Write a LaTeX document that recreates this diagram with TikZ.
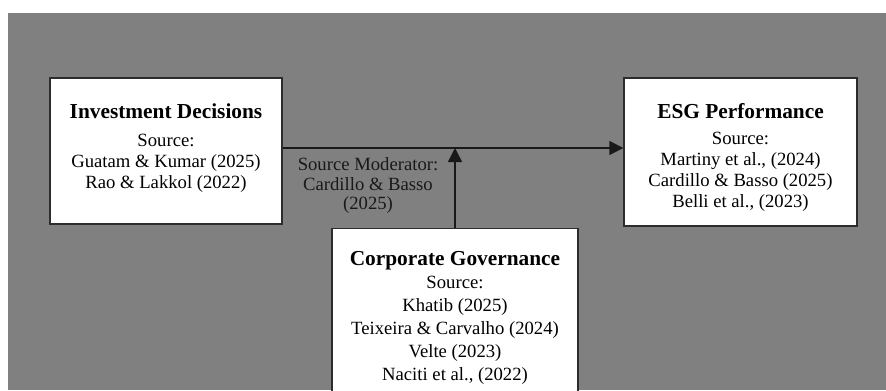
\documentclass[tikz,border=0pt]{standalone}
\usepackage{fontspec}
\setmainfont{Liberation Serif}
\usetikzlibrary{arrows.meta,positioning}

\definecolor{bggray}{RGB}{128,128,128}
\definecolor{boxline}{RGB}{45,45,45}
\newcommand{\boxtitle}[1]{{\fontsize{16}{15.75}\selectfont\bfseries #1}}
\tikzset{
    srcbox/.style={draw=boxline, line width=1pt, fill=white},
    boxtext/.style={align=center, inner sep=0pt,
        font=\fontsize{14}{15.75}\selectfont},
    modtext/.style={align=center, inner sep=0pt, text=black!90,
        font=\fontsize{14}{14.6}\selectfont},
    link/.style={line width=1.1pt, draw=black!90,
        -{Triangle[length=10.5pt,width=10.5pt]}},
}

\begin{document}
\begin{tikzpicture}[x=0.75pt,y=-0.75pt]
        \useasboundingbox (0,0) rectangle (886,390);
        \clip (0,0) rectangle (886,390);
        \fill[bggray] (8,13) rectangle (886,390);
        % boxes
        \node[srcbox, minimum width=174pt, minimum height=109.5pt] (invest) at (166,151) {};
        \node[boxtext] (investtxt) at ([yshift=2pt]invest.center)
            {\boxtitle{Investment Decisions}\\[5pt] Source:\\ Guatam \& Kumar (2025)\\ Rao \& Lakkol (2022)};
        \node[srcbox, minimum width=174.75pt, minimum height=111pt] (esg) at (740.5,152) {};
        \node[boxtext] (esgtxt) at ([yshift=-4pt]esg.center)
            {\boxtitle{ESG Performance}\\[4pt] Source:\\ Martiny et al., (2024)\\ Cardillo \& Basso (2025)\\ Belli et al., (2023)};
        \node[srcbox, boxtext, minimum width=184.5pt, inner ysep=17pt, anchor=north,
            font=\fontsize{14}{17.25}\selectfont] (corpgov) at (455,228)
            {\boxtitle{Corporate Governance}\\ Source:\\ Khatib (2025)\\ Teixeira \& Carvalho (2024)\\ Velte (2023)\\ Naciti et al., (2022)};
        % connectors
        \coordinate (mainline) at ([yshift=2.25pt]invest.east);
        \draw[link] (mainline) -- (esg.west |- mainline);
        \draw[link] (corpgov.north) -- (corpgov.north |- mainline);
        \node[modtext, anchor=north] (modlabel) at (368,157.5)
            {Source Moderator:\\ Cardillo \& Basso\\ (2025)};
\end{tikzpicture}
\end{document}
